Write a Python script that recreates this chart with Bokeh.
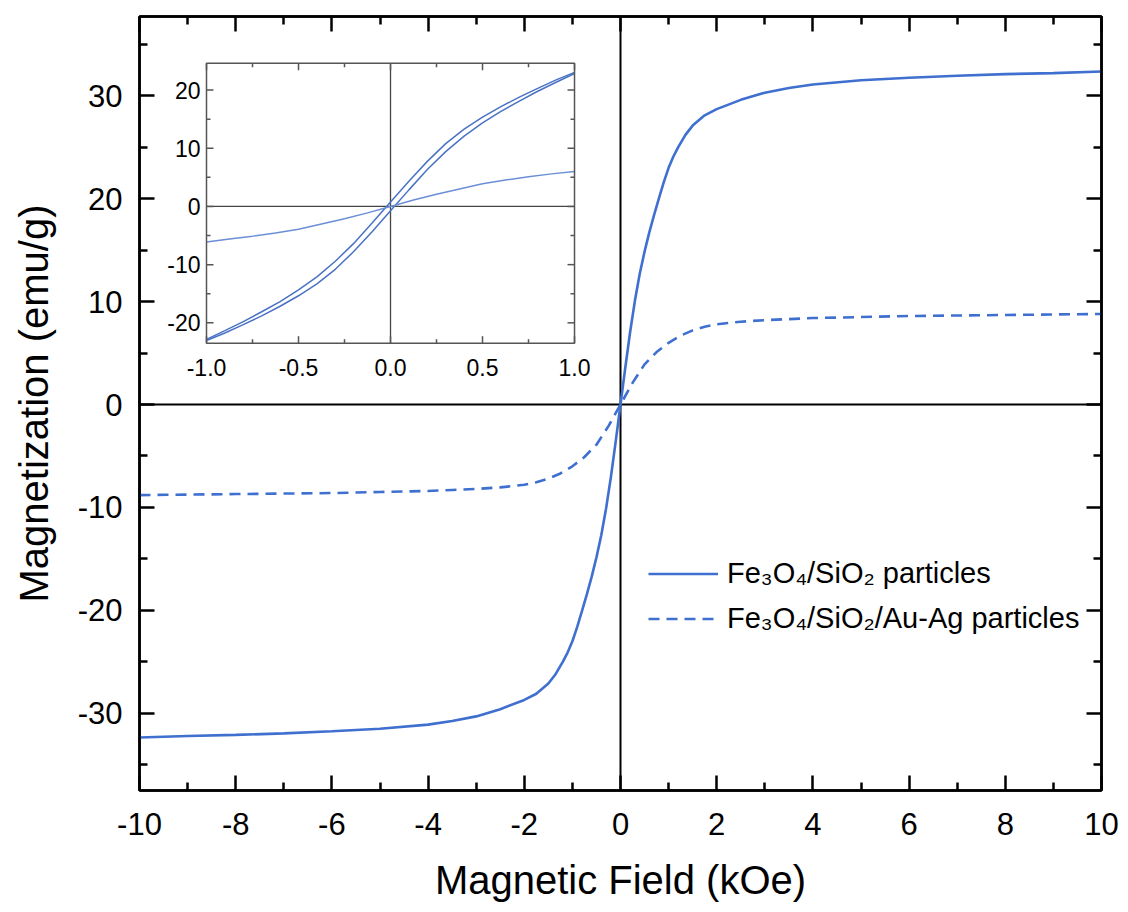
import math
from bokeh.plotting import figure
from bokeh.models import (Range1d, LinearAxis, FixedTicker, Span, Legend, LegendItem,
                          ColumnDataSource, CustomJSTickFormatter)
from bokeh.core.properties import value
from bokeh.embed import file_html
from bokeh.resources import INLINE

FONT = "Liberation Sans"

# ---------------- data ----------------
# main panel: Fe3O4/SiO2 particles (solid)
field_solid = [-10, -9, -8, -7, -6, -5, -4, -3.5, -3, -2.5, -2, -1.75, -1.5, -1.35, -1.2, -1.1,
               -1.0, -0.9, -0.8, -0.7, -0.6, -0.5, -0.4, -0.3, -0.2, -0.1, 0,
               0.1, 0.2, 0.3, 0.4, 0.5, 0.6, 0.7, 0.8, 0.9, 1.0,
               1.1, 1.2, 1.35, 1.5, 1.75, 2, 2.5, 3, 3.5, 4, 5, 6, 7, 8, 9, 10]
mag_solid = [-32.35, -32.2, -32.1, -31.95, -31.75, -31.5, -31.1, -30.75, -30.3, -29.6, -28.7, -28.1, -27.1, -26.2, -25.0, -24.1,
             -23.0, -21.6, -20.05, -18.45, -16.75, -14.85, -12.7, -10.1, -7.05, -3.6, 0,
             3.6, 7.05, 10.1, 12.7, 14.85, 16.75, 18.45, 20.05, 21.6, 23.0,
             24.1, 25.0, 26.2, 27.1, 28.1, 28.7, 29.6, 30.3, 30.75, 31.1, 31.5, 31.75, 31.95, 32.1, 32.2, 32.35]

# main panel: Fe3O4/SiO2/Au-Ag particles (dashed)
field_dash = [-10, -9, -8, -7, -6, -5, -4, -3.5, -3, -2.5, -2, -1.75, -1.5, -1.25, -1, -0.75, -0.5, -0.25, 0,
              0.25, 0.5, 0.75, 1, 1.25, 1.5, 1.75, 2, 2.5, 3, 3.5, 4, 5, 6, 7, 8, 9, 10]
mag_dash = [-8.8, -8.75, -8.7, -8.65, -8.6, -8.5, -8.4, -8.3, -8.2, -8.05, -7.8, -7.55, -7.2, -6.7, -6.0, -5.1, -3.9, -2.1, 0,
            2.1, 3.9, 5.1, 6.0, 6.7, 7.2, 7.55, 7.8, 8.05, 8.2, 8.3, 8.4, 8.5, 8.6, 8.65, 8.7, 8.75, 8.8]

# inset: low-field loop of Fe3O4/SiO2 (two branches) and Fe3O4/SiO2/Au-Ag
field_inset = [-1.0, -0.9, -0.8, -0.7, -0.6, -0.5, -0.4, -0.3, -0.2, -0.1, 0,
               0.1, 0.2, 0.3, 0.4, 0.5, 0.6, 0.7, 0.8, 0.9, 1.0]
mag_branch_down = [-22.85, -21.35, -19.8, -18.1, -16.35, -14.35, -12.1, -9.42, -6.35, -2.85, 0.75,
                   4.35, 7.75, 10.8, 13.3, 15.35, 17.15, 18.8, 20.3, 21.75, 23.05]
mag_branch_up = [-23.05, -21.75, -20.3, -18.8, -17.15, -15.35, -13.3, -10.8, -7.75, -4.35, -0.75,
                 2.85, 6.35, 9.42, 12.1, 14.35, 16.35, 18.1, 19.8, 21.35, 22.85]
field_inset_dash = [-1.0, -0.875, -0.75, -0.625, -0.5, -0.375, -0.25, -0.125, 0,
                    0.125, 0.25, 0.375, 0.5, 0.625, 0.75, 0.875, 1.0]
mag_inset_dash = [-6.1, -5.6, -5.1, -4.55, -3.9, -3.0, -2.1, -1.1, 0,
                  1.1, 2.1, 3.0, 3.9, 4.55, 5.1, 5.6, 6.0]

# ticks
main_xticks = [-10, -8, -6, -4, -2, 0, 2, 4, 6, 8, 10]
main_xtick_labels = ["-10", "-8", "-6", "-4", "-2", "0", "2", "4", "6", "8", "10"]
main_xminor = [-9, -7, -5, -3, -1, 1, 3, 5, 7, 9]
main_yticks = [-30, -20, -10, 0, 10, 20, 30]
main_ytick_labels = ["-30", "-20", "-10", "0", "10", "20", "30"]
main_yminor = [-35, -25, -15, -5, 5, 15, 25, 35]
inset_xticks = [-1.0, -0.5, 0.0, 0.5, 1.0]
inset_xtick_labels = ["-1.0", "-0.5", "0.0", "0.5", "1.0"]
inset_xminor = [-0.75, -0.25, 0.25, 0.75]
inset_yticks = [-20, -10, 0, 10, 20]
inset_ytick_labels = ["-20", "-10", "0", "10", "20"]
inset_yminor = [-15, -5, 5, 15]

labels = ["Fe\u2083O\u2084/SiO\u2082 particles", "Fe\u2083O\u2084/SiO\u2082/Au-Ag particles"]

BLUE = "#3f6fcf"
W, H = 1120, 904


def style_axis(ax, ticks, minor, size, show, tin, tmin, color, lw, standoff, tick_labels=None):
    ax.ticker = FixedTicker(ticks=ticks, minor_ticks=minor)
    ax.major_tick_in = tin
    ax.major_tick_out = 0
    ax.minor_tick_in = tmin
    ax.minor_tick_out = 0
    ax.axis_line_color = color
    ax.axis_line_width = lw
    ax.major_tick_line_color = color
    ax.major_tick_line_width = lw
    ax.minor_tick_line_color = color
    ax.minor_tick_line_width = lw
    ax.major_label_text_font = FONT
    ax.major_label_text_color = "black"
    ax.major_label_text_font_size = f"{size}px"
    if show:
        ax.major_label_standoff = standoff
        if tick_labels is not None:
            ax.major_label_overrides = {t: s for t, s in zip(ticks, tick_labels)}
    else:
        ax.formatter = CustomJSTickFormatter(code="return ''")
        ax.major_label_standoff = 0


# ---------------- main figure ----------------
p = figure(width=W, height=H, x_range=Range1d(-10, 10), y_range=Range1d(-37.5, 37.7),
           output_backend="svg", toolbar_location=None,
           min_border_left=139, min_border_right=19, min_border_top=16, min_border_bottom=111)
p.grid.visible = False
p.outline_line_color = "black"
p.outline_line_width = 2.5
p.background_fill_color = "white"
p.border_fill_color = "white"

xb = p.xaxis[0]
yl = p.yaxis[0]
style_axis(xb, main_xticks, main_xminor, 31, True, 15, 8, "black", 2.5, 22, main_xtick_labels)
style_axis(yl, main_yticks, main_yminor, 31, True, 15, 8, "black", 2.5, 17, main_ytick_labels)
xb.axis_label = "Magnetic Field (kOe)"
yl.axis_label = "Magnetization (emu/g)"
for ax in (xb, yl):
    ax.axis_label_text_font = FONT
    ax.axis_label_text_font_size = "40px"
    ax.axis_label_text_font_style = "normal"
    ax.axis_label_text_color = "black"
xb.axis_label_standoff = 20
yl.axis_label_standoff = 19

xt = LinearAxis()
yr = LinearAxis()
style_axis(xt, main_xticks, main_xminor, 31, False, 15, 8, "black", 2.5, 0)
style_axis(yr, main_yticks, main_yminor, 31, False, 15, 8, "black", 2.5, 0)
p.add_layout(xt, "above")
p.add_layout(yr, "right")

p.add_layout(Span(location=0, dimension="height", line_color="black", line_width=2, level="underlay"))
p.add_layout(Span(location=0, dimension="width", line_color="black", line_width=2, level="underlay"))

src_s = ColumnDataSource(dict(x=field_solid, y=mag_solid))
src_d = ColumnDataSource(dict(x=field_dash, y=mag_dash))
r1 = p.line("x", "y", source=src_s, line_color=BLUE, line_width=2.6)
r2 = p.line("x", "y", source=src_d, line_color=BLUE, line_width=2.6, line_dash="11 7")

legend = Legend(items=[LegendItem(label=labels[0], renderers=[r1]),
                       LegendItem(label=labels[1], renderers=[r2])],
                location=(509, 149), glyph_width=70, glyph_height=45, label_height=45,
                label_standoff=9, spacing=0, padding=0, margin=0,
                border_line_color=None, background_fill_alpha=0,
                label_text_font=FONT, label_text_font_size="29px", label_text_color="black")
p.add_layout(legend)

# ---------------- inset (sub-coordinates inside the main frame) ----------------
ix = Range1d(-1, 1)
iy = Range1d(-23.5, 24.6)
# placement of the inset box, in main-axis units
sub = p.subplot(x_source=ix, y_source=iy,
                x_target=Range1d(-8.607, -0.956), y_target=Range1d(5.96, 33.15))

GRAY = "#555555"
sub.quad(left=[ix.start], right=[ix.end], bottom=[iy.start], top=[iy.end],
         fill_color="white", line_color=None)
# zero lines
sub.segment(x0=[ix.start, 0], y0=[0, iy.start], x1=[ix.end, 0], y1=[0, iy.end],
            line_color="#444444", line_width=1.3)

ICOL = "#4a72c4"
sub.line(field_inset, mag_branch_down, line_color=ICOL, line_width=1.5)
sub.line(field_inset, mag_branch_up, line_color=ICOL, line_width=1.5)
sub.line(field_inset_dash, mag_inset_dash, line_color="#6b8fd6", line_width=1.5)

# ticks, inward, on all four sides
for ticks, ln in ((inset_xticks, 7), (inset_xminor, 4)):
    n = len(ticks)
    sub.ray(x=ticks, y=[iy.start] * n, length=ln, angle=math.pi / 2, length_units="screen",
            line_color=GRAY, line_width=1.5)
    sub.ray(x=ticks, y=[iy.end] * n, length=ln, angle=-math.pi / 2, length_units="screen",
            line_color=GRAY, line_width=1.5)
for ticks, ln in ((inset_yticks, 7), (inset_yminor, 4)):
    n = len(ticks)
    sub.ray(x=[ix.start] * n, y=ticks, length=ln, angle=0, length_units="screen",
            line_color=GRAY, line_width=1.5)
    sub.ray(x=[ix.end] * n, y=ticks, length=ln, angle=math.pi, length_units="screen",
            line_color=GRAY, line_width=1.5)

# frame
sub.quad(left=[ix.start], right=[ix.end], bottom=[iy.start], top=[iy.end],
         fill_color=None, line_color=GRAY, line_width=1.5)

# tick labels
sub.text(x=inset_xticks, y=[iy.start] * len(inset_xticks), text=inset_xtick_labels,
         y_offset=16, text_align="center", text_baseline="top",
         text_font=value(FONT), text_font_size="23px", text_color="black")
sub.text(x=[ix.start] * len(inset_yticks), y=inset_yticks, text=inset_ytick_labels,
         x_offset=-6, text_align="right", text_baseline="middle",
         text_font=value(FONT), text_font_size="23px", text_color="black")

open("out.html", "w").write(file_html(p, INLINE))
